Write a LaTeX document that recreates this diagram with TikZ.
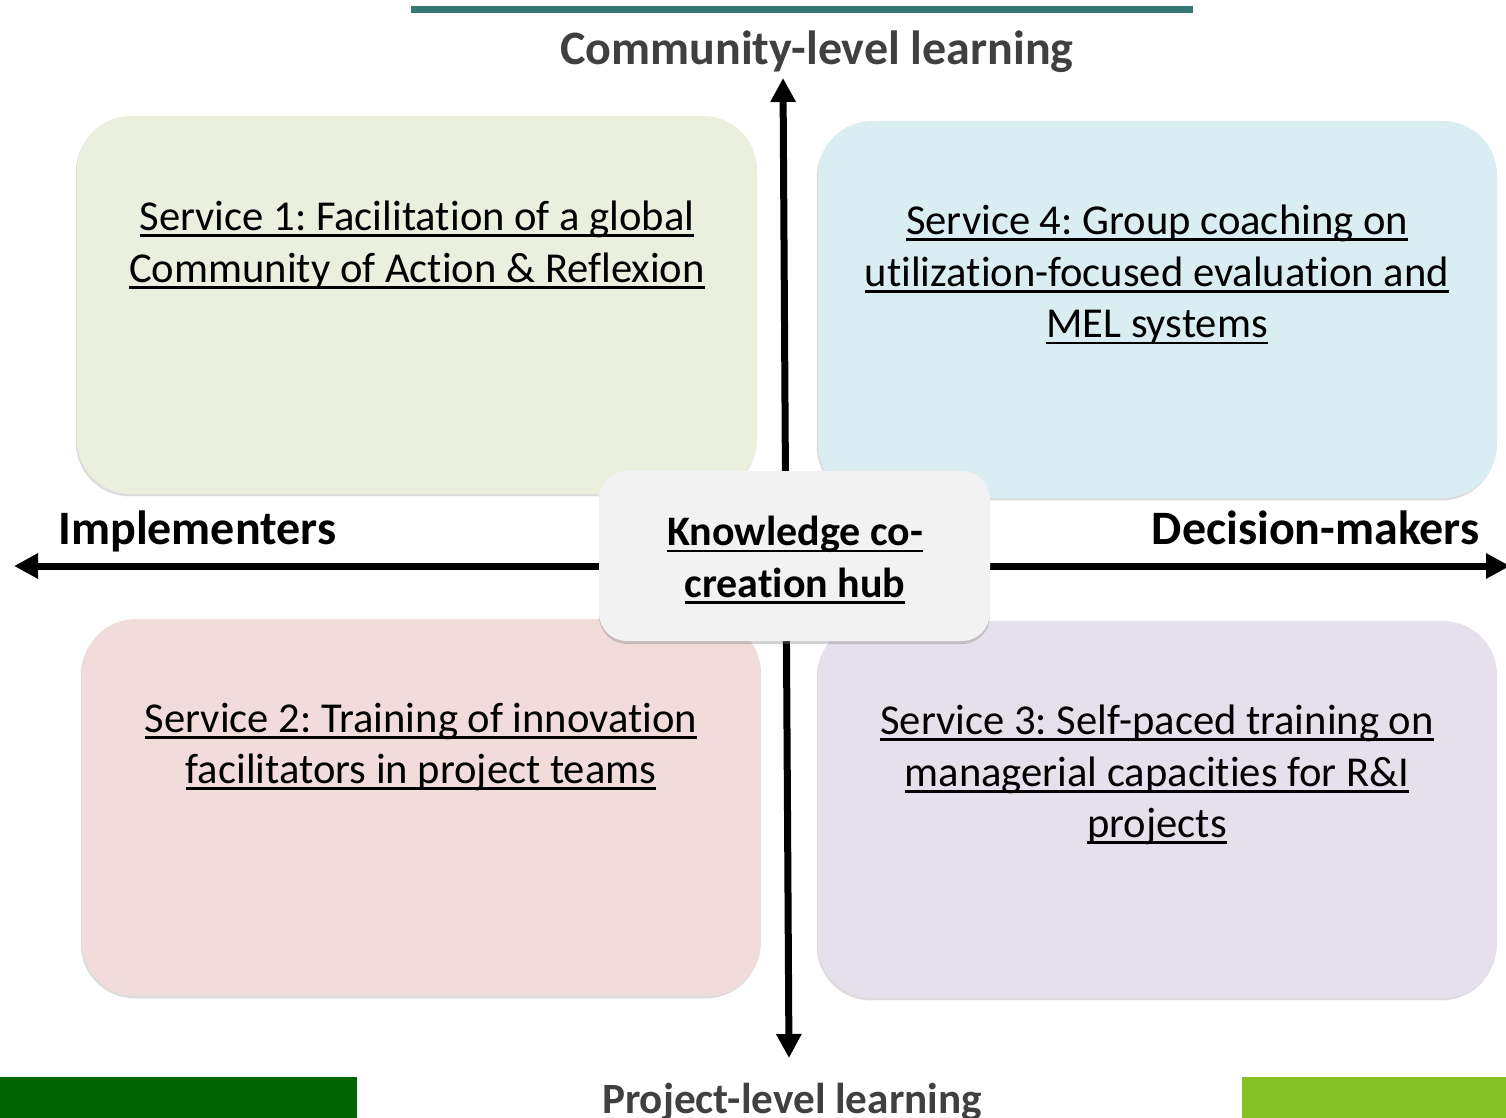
\documentclass[tikz,border=0pt]{standalone}
\usepackage{fontspec}
\setmainfont[Ligatures=NoCommon]{Carlito}
\newsavebox\ulbox
\newcommand\myul[1]{\sbox\ulbox{#1}\rlap{\rule[-3.2pt]{\wd\ulbox}{1.4pt}}\usebox\ulbox}
\frenchspacing
\usetikzlibrary{arrows.meta,shadows}
\definecolor{topbar}{HTML}{357A72}
\definecolor{labelgray}{HTML}{404040}
\definecolor{sone}{HTML}{EBEFDE}
\definecolor{sfour}{HTML}{DAEDF3}
\definecolor{stwo}{HTML}{F2DCDB}
\definecolor{sthree}{HTML}{E5E0EC}
\definecolor{hubfill}{HTML}{F2F2F2}
\definecolor{darkbar}{HTML}{006400}
\definecolor{lightbar}{HTML}{84C225}
\tikzset{
  quad/.style={fill=#1, rounded corners=27pt,
    drop shadow={shadow xshift=-0.6pt, shadow yshift=-1.2pt, fill=black!45, opacity=0.3}},
  svctext/.style={font=\fontsize{21.3pt}{25.8pt}\selectfont, align=center, inner sep=0pt},
  axislabel/.style={font=\fontsize{24pt}{29pt}\selectfont\bfseries, inner sep=0pt},
  axis/.style={line width=3.5pt, -{Triangle[length=12pt,width=12pt]}},
}
\begin{document}
\begin{tikzpicture}[x=0.5pt,y=-0.5pt]
\useasboundingbox (0,0) rectangle (1506,1118);
% bars
\fill[topbar] (411,6) rectangle (1193,13);
\fill[darkbar] (0,1077) rectangle (357,1118);
\fill[lightbar] (1242,1077) rectangle (1506,1118);
% quadrant boxes
\path[quad=sone] (77,116) rectangle (757,494);
\path[quad=sfour] (818,121) rectangle (1497,498);
\path[quad=stwo] (82,619) rectangle (761,996);
\path[quad=sthree] (818,621) rectangle (1497,998);
\node[svctext] (s1) at (417,245) {\myul{Service 1: Facilitation of a global}\\\myul{Community of Action \& Reflexion}};
\node[svctext] (s4) at (1157,275) {\myul{Service 4: Group coaching on}\\\myul{utilization-focused evaluation and}\\\myul{MEL systems}};
\node[svctext] (s2) at (421,747) {\myul{Service 2: Training of innovation}\\\myul{facilitators in project teams}};
\node[svctext] (s3) at (1157,775) {\myul{Service 3: Self-paced training on}\\\myul{managerial capacities for R\&I}\\\myul{projects}};
% axes
\coordinate (c) at (786,566);
\coordinate (top) at (783,78);
\coordinate (bottom) at (789,1058);
\coordinate (left) at (14,566);
\coordinate (right) at (1510,566);
\draw[axis] (c) -- (top);
\draw[axis] (c) -- (bottom);
\draw[axis] (c) -- (left);
\draw[axis] (c) -- (right);
% hub
\path[fill=hubfill, rounded corners=14pt,
  drop shadow={shadow xshift=0pt, shadow yshift=-1.5pt, fill=black!50, opacity=0.35}]
  (599,471) rectangle (990,641);
\node[svctext, font=\fontsize{21pt}{25.6pt}\selectfont\bfseries] (hub) at (795,560) {\myul{Knowledge co-}\\\myul{creation hub}};
% labels
\node[axislabel, text=labelgray, anchor=base] (tl) at (817,65) {Community-level learning};
\node[axislabel, text=labelgray, anchor=base, font=\fontsize{21.6pt}{26pt}\selectfont\bfseries] (bl) at (792,1113) {Project-level learning};
\node[axislabel, anchor=base west] (ll) at (58,545) {Implementers};
\node[axislabel, anchor=base east] (rl) at (1480,545) {Decision-makers};
\end{tikzpicture}
\end{document}
